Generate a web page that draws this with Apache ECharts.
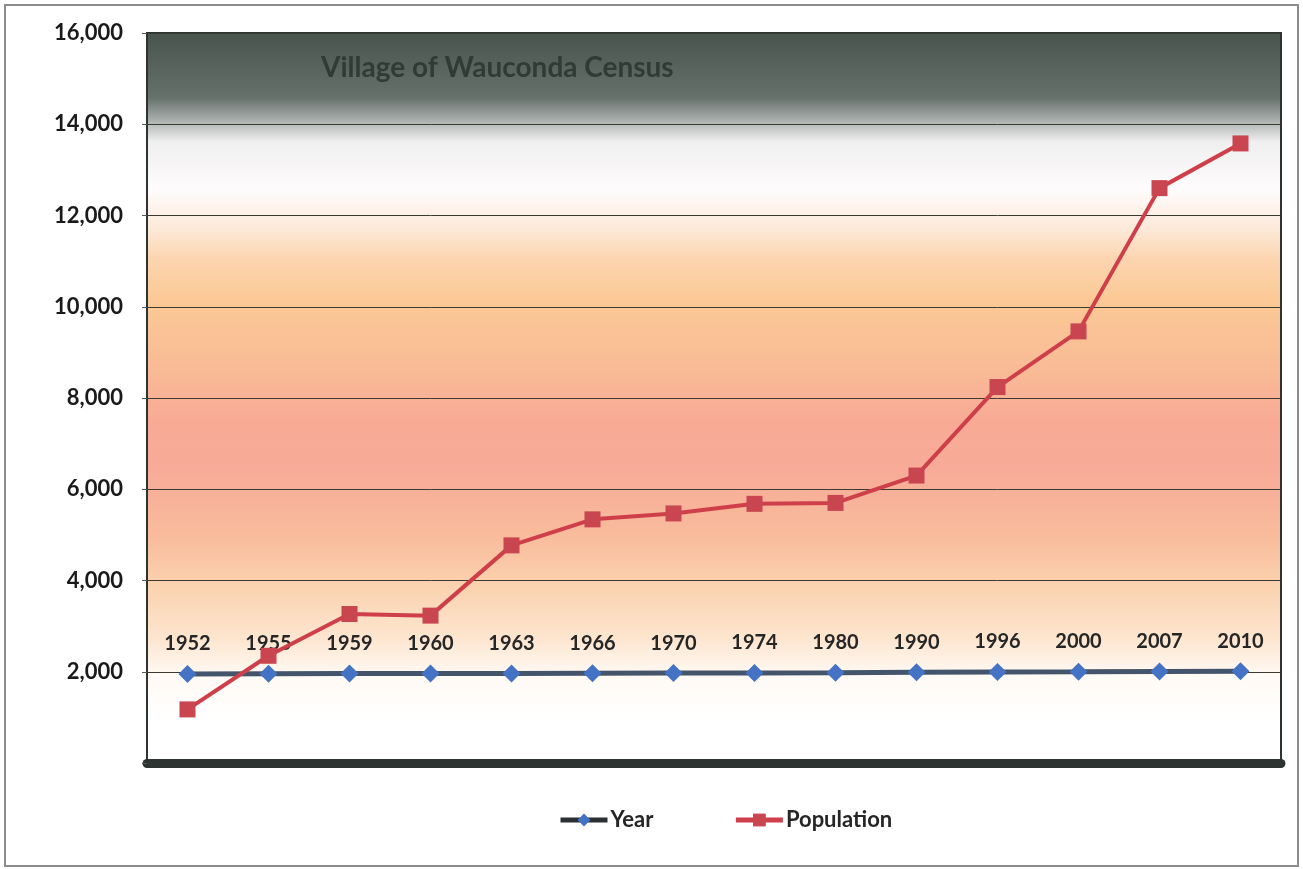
<!DOCTYPE html>
<html>
<head>
<meta charset="utf-8">
<script src="https://cdn.jsdelivr.net/npm/echarts@6/dist/echarts.min.js"></script>
<style>
html,body{margin:0;padding:0;background:#fff;}
#chart{width:1303px;height:869px;}
</style>
</head>
<body>
<div id="chart"></div>
<script>
const categories = ['1952','1955','1959','1960','1963','1966','1970','1974','1980','1990','1996','2000','2007','2010'];
const yearValues = [1952,1955,1959,1960,1963,1966,1970,1974,1980,1990,1996,2000,2007,2010];
const populationValues = [1175,2350,3265,3230,4770,5340,5470,5680,5700,6300,8240,9460,12600,13580];
const yTicks = [0,2000,4000,6000,8000,10000,12000,14000,16000];

const chart = echarts.init(document.getElementById('chart'));
const font = 'Lato, "Open Sans", sans-serif';
chart.setOption({
  animation: false,
  backgroundColor: '#ffffff',
  title: {
    text: 'Village of Wauconda Census',
    left: 316, top: 49,
    textStyle: {fontFamily: font, fontWeight: 'bold', fontSize: 28, color: '#303b36'}
  },
  graphic: [{
    type: 'rect', z: -1, silent: true,
    shape: {x: 5, y: 5, width: 1293, height: 861},
    style: {fill: 'none', stroke: '#8c8c8c', lineWidth: 2}
  }],
  legend: {
    bottom: 33, left: 553,
    itemWidth: 47, itemHeight: 16, itemGap: 80,
    lineStyle: {width: 5},
    textStyle: {fontFamily: font, fontWeight: 'bold', fontSize: 22, color: '#262626', padding: [0, 0, 0, -2]},
    data: [
      {name: 'Year', lineStyle: {color: '#2a2f33', width: 5}},
      {name: 'Population', lineStyle: {color: '#cf3f4a', width: 5}}
    ]
  },
  grid: {
    left: 147, right: 22, top: 33, bottom: 106,
    show: true,
    borderColor: '#2c3330', borderWidth: 2,
    backgroundColor: {
      type: 'linear', x: 0, y: 0, x2: 0, y2: 1,
      colorStops: [
        {offset: 0, color: '#48534e'},
        {offset: 0.09, color: '#66716c'},
        {offset: 0.12, color: '#a9aeac'},
        {offset: 0.15, color: '#f0eff0'},
        {offset: 0.215, color: '#fefcfc'},
        {offset: 0.27, color: '#fde8d8'},
        {offset: 0.31, color: '#fcd5b0'},
        {offset: 0.365, color: '#fbc995'},
        {offset: 0.46, color: '#f9bb96'},
        {offset: 0.53, color: '#f8aa95'},
        {offset: 0.6, color: '#f7ab98'},
        {offset: 0.69, color: '#f9bc9c'},
        {offset: 0.76, color: '#fbd3b0'},
        {offset: 0.83, color: '#fde6d0'},
        {offset: 0.88, color: '#fffaf5'},
        {offset: 0.94, color: '#ffffff'},
        {offset: 1, color: '#ffffff'}
      ]
    }
  },
  xAxis: {
    type: 'category',
    data: categories,
    boundaryGap: true,
    offset: 4,
    axisLine: {show: true, lineStyle: {color: '#2c3330', width: 9}},
    axisTick: {show: false},
    axisLabel: {show: false},
    splitLine: {show: false}
  },
  yAxis: {
    type: 'value',
    min: yTicks[0], max: yTicks[yTicks.length - 1], interval: 2000,
    axisLine: {show: true, lineStyle: {color: '#2c3330', width: 2}},
    axisTick: {show: true, length: 5, lineStyle: {color: '#555'}},
    axisLabel: {
      fontFamily: font, fontWeight: 'bold', fontSize: 22, color: '#1a1a1a', margin: 24,
      formatter: v => v === 0 ? '' : v.toLocaleString('en-US')
    },
    splitLine: {show: true, lineStyle: {color: '#3a3a30', width: 1}}
  },
  series: [
    {
      name: 'Year', type: 'line', data: yearValues,
      symbol: 'diamond', symbolSize: 18,
      lineStyle: {color: '#44546a', width: 5},
      itemStyle: {color: '#4472c4'},
      label: {
        show: true, position: 'top', distance: 11,
        fontFamily: font, fontWeight: 'bold', fontSize: 20, color: '#262626'
      },
      z: 2
    },
    {
      name: 'Population', type: 'line', data: populationValues,
      symbol: 'rect', symbolSize: 16,
      lineStyle: {color: '#cf3f4a', width: 4},
      itemStyle: {color: '#c9454f'},
      z: 3
    }
  ]
});
</script>
</body>
</html>
